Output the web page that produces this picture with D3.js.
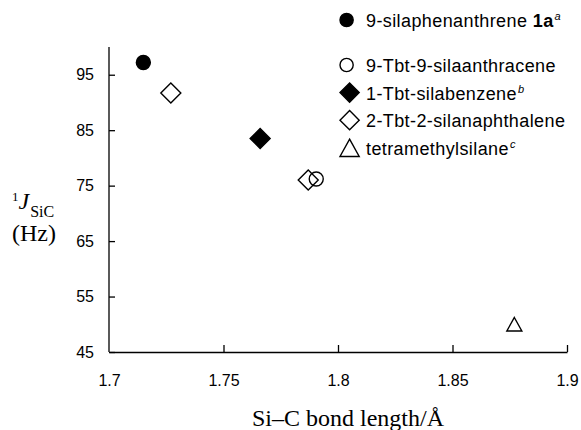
<!DOCTYPE html>
<html>
<head>
<meta charset="utf-8">
<script src="https://cdn.jsdelivr.net/npm/d3@7"></script>
<style>
  body { margin: 0; background: #fff; }
  svg { display: block; }
</style>
</head>
<body>
<div id="chart"></div>
<script>
"use strict";
// Series (compounds) shown in the legend
const seriesShapes = ['circle', 'circle', 'diamond', 'diamond', 'triangle'];
const seriesFilled = [true, false, true, false, false];
// Legend labels as text runs (bold / superscript parts)
const seriesLabels = [
  [{ t: '9-silaphenanthrene ' }, { t: '1a', bold: true }, { t: 'a', sup: true }],
  [{ t: '9-Tbt-9-silaanthracene' }],
  [{ t: '1-Tbt-silabenzene' }, { t: 'b', sup: true }],
  [{ t: '2-Tbt-2-silanaphthalene' }],
  [{ t: 'tetramethylsilane' }, { t: 'c', sup: true }]
];
// Points: Si-C bond length (Å), 1J(SiC) (Hz), series index
const bondLength = [1.715, 1.727, 1.766, 1.787, 1.7905, 1.877];
const couplingJ = [97.2, 91.7, 83.5, 76.0, 76.2, 50.0];
const pointSeries = [0, 3, 2, 3, 1, 4];
// Axis ticks
const xTicks = [1.7, 1.75, 1.8, 1.85, 1.9];
const yTicks = [45, 55, 65, 75, 85, 95];

const W = 581, H = 430;
const SANS = '"Liberation Sans", Arial, sans-serif';
const SERIF = '"Liberation Serif", "Times New Roman", serif';

const svg = d3.select('#chart').append('svg')
  .attr('width', W).attr('height', H);

const x = d3.scaleLinear().domain([1.7, 1.9]).range([109, 567]);
const y = d3.scaleLinear().domain([45, 100]).range([352, 47]);

/** path for a marker of given shape centred at 0,0 ("r" = half width) */
function markerPath(shape, r) {
  if (shape === 'circle') {
    return d3.symbol(d3.symbolCircle, Math.PI * r * r)();
  }
  if (shape === 'diamond') {
    return `M0,${-r}L${r},0L0,${r}L${-r},0Z`;
  }
  // triangle, centred on its bounding box
  const h = r * 1.8;
  return `M0,${-h / 2}L${r},${h / 2}L${-r},${h / 2}Z`;
}
const plotSize = { circle: 7, diamond: 10, triangle: 7.5 };
const legendSize = { circle: 6.6, diamond: 9.6, triangle: 9.6 };

// Axes
const xAxis = d3.axisBottom(x)
  .tickValues(xTicks)
  .tickFormat(d => String(+d.toFixed(2)))
  .tickSizeInner(-7).tickSizeOuter(0).tickPadding(23);
const yAxis = d3.axisLeft(y)
  .tickValues(yTicks)
  .tickFormat(d3.format('d'))
  .tickSizeInner(-6).tickSizeOuter(0).tickPadding(15);

const gx = svg.append('g')
  .attr('transform', `translate(0,${y(45)})`)
  .call(xAxis);
const gy = svg.append('g')
  .attr('transform', `translate(${x(1.7)},0)`)
  .call(yAxis);
// y axis runs to the top of the domain
gy.select('.domain').attr('d', `M0,${y(100)}V${y(45)}`);

[gx, gy].forEach(g => {
  g.select('.domain').attr('stroke', '#000').attr('stroke-width', 1.3);
  g.selectAll('.tick line').attr('stroke', '#000').attr('stroke-width', 1.3);
  g.selectAll('.tick text')
    .attr('fill', '#000')
    .style('font-family', SANS)
    .style('font-size', '16px');
});
// the 1.7 tick coincides with the y axis
gx.selectAll('.tick line').filter(d => d === 1.7).remove();

// Axis titles
svg.append('text')
  .attr('x', 348).attr('y', 426)
  .attr('text-anchor', 'middle')
  .style('font-family', SERIF).style('font-size', '24px')
  .text('Si\u2013C bond length/\u00C5');

const yTitle = svg.append('text')
  .attr('x', 12).attr('y', 209)
  .style('font-family', SERIF).style('font-size', '24px');
yTitle.append('tspan').attr('dy', -8).style('font-size', '13px').text('1');
yTitle.append('tspan').attr('dy', 8).style('font-style', 'italic').text('J');
yTitle.append('tspan').attr('dy', 8).attr('dx', 1).style('font-size', '16px').text('SiC');
svg.append('text')
  .attr('x', 12).attr('y', 241)
  .style('font-family', SERIF).style('font-size', '24px')
  .text('(Hz)');

// Points
const points = bondLength.map((b, i) => ({ b, j: couplingJ[i], s: pointSeries[i] }));
svg.append('g').selectAll('path')
  .data(points)
  .join('path')
  .attr('transform', d => `translate(${x(d.b)},${y(d.j)})`)
  .attr('d', d => markerPath(seriesShapes[d.s], plotSize[seriesShapes[d.s]]))
  .attr('fill', d => seriesFilled[d.s] ? '#000' : 'none')
  .attr('stroke', '#000')
  .attr('stroke-width', 1.4);

// Legend
const legend = svg.append('g');
const rowY = i => (i === 0 ? 20 : 65 + (i - 1) * 27.6);
seriesLabels.forEach((parts, i) => {
  const shape = seriesShapes[i];
  const r = legendSize[shape];
  legend.append('path')
    .attr('transform', `translate(${340 + r},${rowY(i)})`)
    .attr('d', markerPath(shape, r))
    .attr('fill', seriesFilled[i] ? '#000' : 'none')
    .attr('stroke', '#000')
    .attr('stroke-width', 1.4);
  const t = legend.append('text')
    .attr('x', 366).attr('y', rowY(i) + 7)
    .style('font-family', SANS).style('font-size', '18px')
    .style('letter-spacing', '0.4px');
  let raised = false;
  parts.forEach(p => {
    const ts = t.append('tspan').text(p.t);
    if (p.bold) ts.style('font-weight', 'bold');
    if (p.sup) {
      ts.attr('dy', -7).attr('dx', 1).style('font-size', '11px').style('font-style', 'italic');
      raised = true;
    } else if (raised) {
      ts.attr('dy', 7);
      raised = false;
    }
  });
});
</script>
</body>
</html>
